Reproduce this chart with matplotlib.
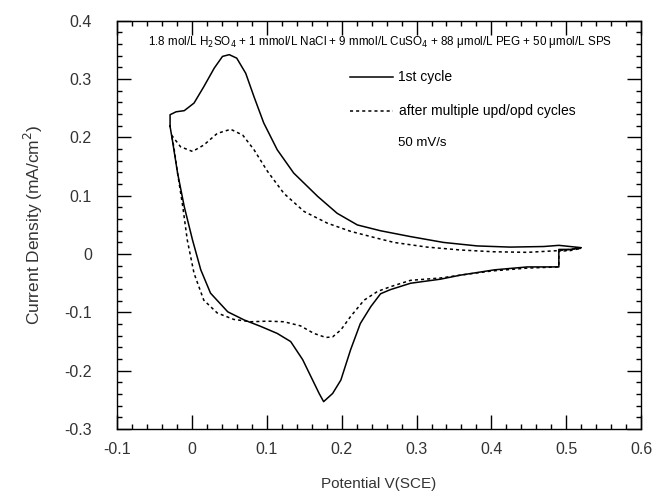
import numpy as np
import matplotlib.pyplot as plt
from matplotlib.ticker import MultipleLocator

plt.rcParams['font.family'] = ['Liberation Sans', 'DejaVu Sans']

# 1st cycle: upper branch (left -> right), then lower branch (right -> left)
first_x = [-0.029, -0.029, -0.021, -0.010, 0.003, 0.016, 0.030, 0.041, 0.050, 0.060,
           0.072, 0.083, 0.096, 0.114, 0.136, 0.168, 0.194, 0.221, 0.252, 0.292,
           0.336, 0.381, 0.425, 0.470, 0.490, 0.505, 0.520, 0.505, 0.490, 0.490,
           0.448, 0.404, 0.359, 0.332, 0.292, 0.265, 0.252, 0.239, 0.225, 0.212,
           0.199, 0.188, 0.176, 0.170, 0.159, 0.148, 0.132, 0.114, 0.092, 0.070,
           0.048, 0.025, 0.012, 0.001, -0.010, -0.019, -0.026, -0.029]
first_y = [0.219, 0.239, 0.244, 0.246, 0.259, 0.287, 0.319, 0.339, 0.342, 0.336,
           0.310, 0.270, 0.225, 0.179, 0.139, 0.099, 0.070, 0.050, 0.040, 0.030,
           0.020, 0.014, 0.012, 0.013, 0.015, 0.013, 0.011, 0.008, 0.008, -0.022,
           -0.022, -0.027, -0.036, -0.043, -0.050, -0.061, -0.068, -0.090, -0.119, -0.164,
           -0.216, -0.239, -0.253, -0.239, -0.210, -0.181, -0.150, -0.136, -0.124, -0.113,
           -0.099, -0.067, -0.027, 0.024, 0.081, 0.139, 0.196, 0.219]

# after multiple upd/opd cycles
multi_x = [-0.027, -0.015, 0.001, 0.016, 0.034, 0.052, 0.068, 0.083, 0.101, 0.123,
           0.150, 0.181, 0.212, 0.248, 0.270, 0.314, 0.359, 0.403, 0.448, 0.490,
           0.520, 0.505, 0.490, 0.490, 0.448, 0.400, 0.359, 0.332, 0.292, 0.265,
           0.248, 0.230, 0.212, 0.199, 0.188, 0.179, 0.163, 0.145, 0.123, 0.101,
           0.079, 0.056, 0.034, 0.016, 0.003, -0.006, -0.012, -0.019, -0.024, -0.027]
multi_y = [0.204, 0.184, 0.176, 0.187, 0.207, 0.214, 0.204, 0.179, 0.142, 0.104,
           0.073, 0.053, 0.039, 0.027, 0.020, 0.012, 0.007, 0.004, 0.003, 0.006,
           0.010, 0.006, 0.005, -0.022, -0.024, -0.029, -0.036, -0.041, -0.045, -0.056,
           -0.064, -0.079, -0.107, -0.130, -0.142, -0.143, -0.136, -0.123, -0.116, -0.115,
           -0.116, -0.112, -0.101, -0.079, -0.033, 0.024, 0.081, 0.139, 0.184, 0.204]

x_ticks = [-0.1, 0.0, 0.1, 0.2, 0.3, 0.4, 0.5, 0.6]
x_labels = ['-0.1', '0', '0.1', '0.2', '0.3', '0.4', '0.5', '0.6']
y_ticks = [-0.3, -0.2, -0.1, 0.0, 0.1, 0.2, 0.3, 0.4]
y_labels = ['-0.3', '-0.2', '-0.1', '0', '0.1', '0.2', '0.3', '0.4']

fig = plt.figure(figsize=(6.53, 4.96), dpi=100)
ax = fig.add_axes([0.179, 0.135, 0.803, 0.823])

ax.plot(first_x, first_y, color='black', lw=1.1)
ax.plot(multi_x, multi_y, color='black', lw=1.1, linestyle=(0, (2, 2)))

ax.set_xlim(-0.1, 0.6)
ax.set_ylim(-0.3, 0.4)
ax.set_xticks(x_ticks)
ax.set_xticklabels(x_labels)
ax.set_yticks(y_ticks)
ax.set_yticklabels(y_labels)
ax.xaxis.set_minor_locator(MultipleLocator(0.02))
ax.yaxis.set_minor_locator(MultipleLocator(0.02))
ax.tick_params(which='both', direction='in', top=True, right=True,
               colors='black', labelcolor='#333333', labelsize=11.5)
ax.tick_params(which='major', length=10, width=1)
ax.tick_params(which='minor', length=3.5, width=1)
ax.tick_params(axis='x', which='major', pad=9)
ax.tick_params(axis='y', which='major', pad=18)
for s in ax.spines.values():
    s.set_linewidth(1)

ax.set_xlabel('Potential V(SCE)', fontsize=11, color='#333333', labelpad=15)
ax.set_ylabel('Current Density (mA/cm$^2$)', fontsize=12.5, color='#333333', labelpad=14)

ax.text(0.251, 0.364,
        '1.8 mol/L H$_2$SO$_4$ + 1 mmol/L NaCl + 9 mmol/L CuSO$_4$ + 88 \u03bcmol/L PEG + 50 \u03bcmol/L SPS',
        fontsize=8.4, ha='center', va='center')

ax.plot([0.211, 0.268], [0.304, 0.304], color='black', lw=1.1)
ax.text(0.275, 0.304, '1st cycle', fontsize=10, va='center')
ax.plot([0.211, 0.268], [0.246, 0.246], color='black', lw=1.1, linestyle=(0, (2, 2)))
ax.text(0.277, 0.246, 'after multiple upd/opd cycles', fontsize=10, va='center')
ax.text(0.275, 0.191, '50 mV/s', fontsize=9.5, va='center')

fig.savefig('out.png', dpi=100)
